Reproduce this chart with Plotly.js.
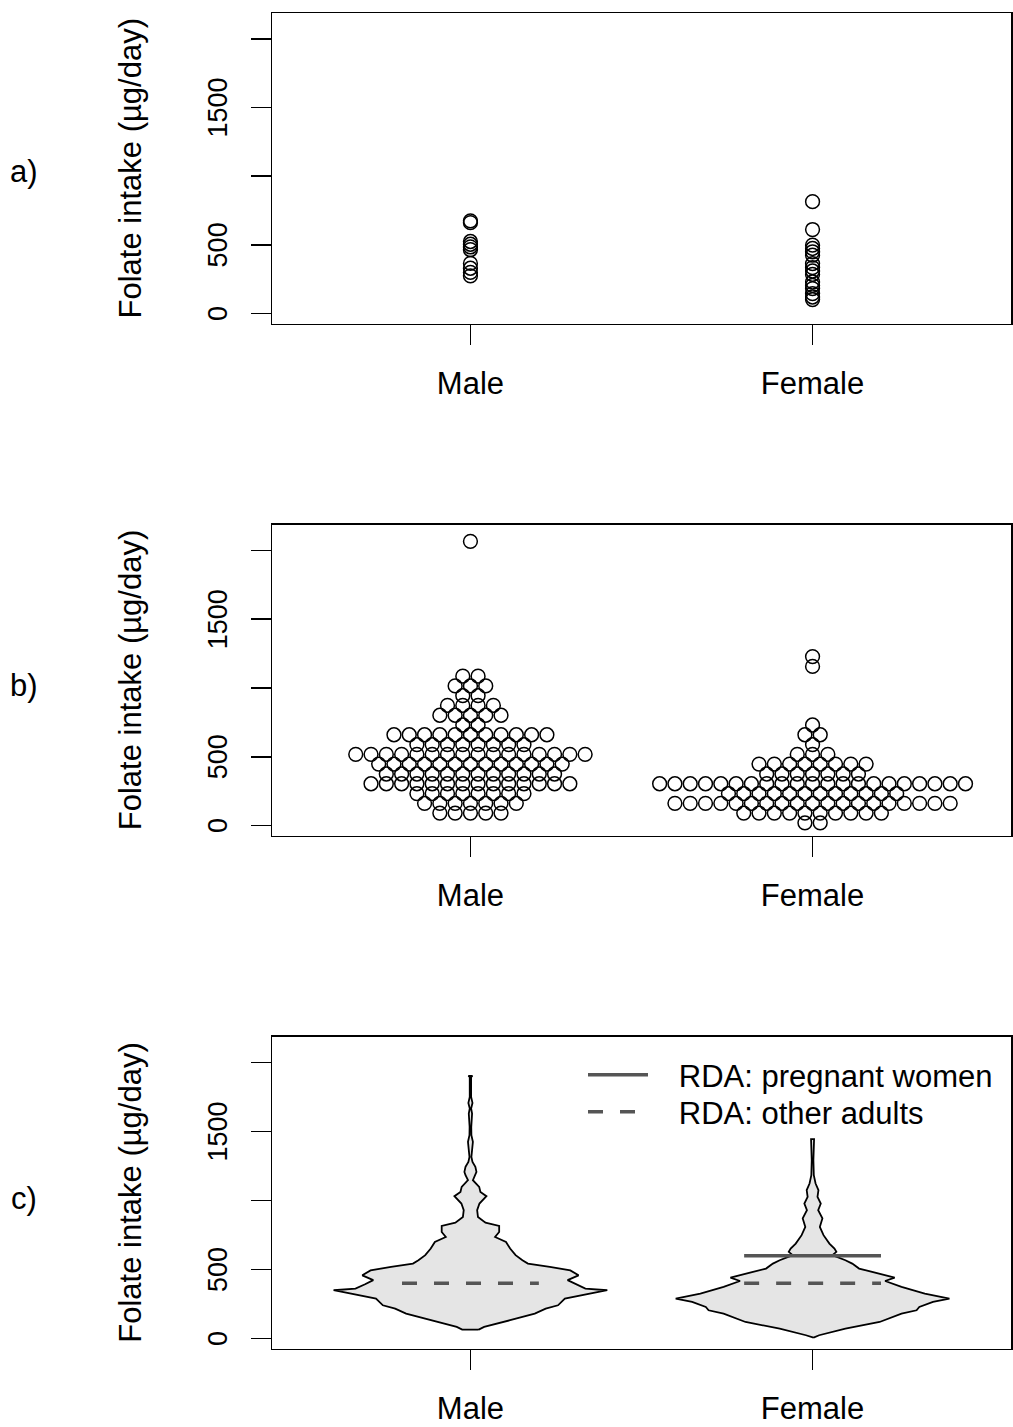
<!DOCTYPE html>
<html>
<head>
<meta charset="utf-8">
<script src="https://cdn.plot.ly/plotly-3.0.1.min.js"></script>
<style>
  html, body { margin: 0; padding: 0; background: #ffffff; }
  #chart { width: 1013px; height: 1427px; }
</style>
</head>
<body>
<div id="chart"></div>
<script>
// ---------------- data ----------------
const categories = ['Male', 'Female'];
const yTickVals = [0, 500, 1000, 1500, 2000];
const yTickText = ['0', '500', '', '1500', ''];
const panelLabels = ['a)', 'b)', 'c)'];
const yTitle = 'Folate intake (µg/day)';

// panel a: small sample (strip chart)
const stripMale = [675, 662, 525, 505, 485, 465, 365, 330, 300, 275];
const stripFemale = [815, 612, 498, 474, 450, 425, 364, 335, 310, 285, 230, 206, 182, 146, 121, 102];

// panel b: larger sample (beeswarm) – intake levels and number of people at each level
const swarmMaleLevels = [91, 162, 233, 304, 375, 447, 518, 589, 660, 731, 802, 873, 944, 1015, 1086, 2066];
const swarmMaleCounts = [5, 7, 8, 14, 12, 13, 16, 8, 11, 2, 5, 4, 2, 3, 2, 1];
const swarmFemaleLevels = [20, 91, 162, 233, 304, 375, 447, 518, 589, 660, 731, 1157, 1228];
const swarmFemaleCounts = [2, 10, 19, 12, 21, 7, 8, 3, 1, 2, 1, 1, 1];

// panel c: full sample density (relative density, % of maximum) at intake values
const densMaleY = [65, 84, 133, 181, 217, 241, 290, 326, 350, 362, 393, 423, 458, 494, 519, 543, 567, 604, 652, 700, 736, 772, 816, 840, 881, 930, 978, 1031, 1062, 1099, 1147, 1183, 1207, 1244, 1280, 1316, 1365, 1425, 1473, 1533, 1630, 1667, 1707, 1751, 1895, 1903];
const densMaleRel = [6, 10, 29, 47, 55, 64, 69, 88, 100, 84, 77, 71, 79, 73, 58, 42, 38, 33, 29, 26, 18, 21, 21, 11, 5.5, 4.9, 6.6, 11.7, 7.3, 6.4, 1.8, 3.6, 4.4, 3.6, 1.5, 0.7, 1.1, 1.8, 0.7, 0.6, 1.2, 0.5, 1.5, 0.5, 0.5, 1.5];
const densFemaleY = [7, 24, 72, 120, 181, 205, 229, 265, 290, 326, 374, 417, 442, 471, 507, 543, 567, 604, 628, 652, 688, 749, 809, 870, 930, 978, 1026, 1075, 1123, 1183, 1292, 1444];
const densFemaleRel = [0.7, 4.8, 24, 49, 65, 76, 78, 88, 100, 82, 65, 53, 60, 48, 34, 29, 24, 14.5, 17.4, 16, 12.3, 8, 5.3, 7.2, 4.1, 6, 3.6, 4.3, 2.2, 0.9, 0.6, 1.1];

// recommended dietary allowances
const rdaLabels = ['RDA: pregnant women', 'RDA: other adults'];
const rdaValues = [600, 400];

// ---------------- drawing ----------------
const W = 1013, H = 1427;
const FONT = 'Liberation Sans, Arial, Helvetica, sans-serif';
const xDom = [272 / W, 1011 / W];
function yDom(top, bottom) { return [1 - bottom / H, 1 - top / H]; }
const panels = [yDom(13, 323.5), yDom(524.5, 835.5), yDom(1036.5, 1348.5)];
const yRange = [-72, 2188];
const swarmStep = 0.0447;   // horizontal spacing of touching circles (x units)
const violinHalf = 0.40;    // half width at maximum density (x units)
const rdaHalf = 0.2;
const legendPad = '\u00A0\u00A0\u00A0';

const markerStyle = { symbol: 'circle-open', size: 13.8, color: '#000', line: { width: 1.5, color: '#000' } };

function swarm(levels, counts, center) {
  const xs = [], ys = [];
  levels.forEach((v, i) => {
    const n = counts[i];
    for (let k = 0; k < n; k++) {
      xs.push(center + (k - (n - 1) / 2) * swarmStep);
      ys.push(v);
    }
  });
  return { xs, ys };
}

function violin(yv, rel, center) {
  const xs = [], ys = [];
  for (let i = 0; i < yv.length; i++) { xs.push(center + rel[i] / 100 * violinHalf); ys.push(yv[i]); }
  for (let i = yv.length - 1; i >= 0; i--) { xs.push(center - rel[i] / 100 * violinHalf); ys.push(yv[i]); }
  xs.push(xs[0]); ys.push(ys[0]);
  return { xs, ys };
}

const traces = [];
// panel a
traces.push({ type: 'scatter', mode: 'markers', x: stripMale.map(() => 1), y: stripMale, xaxis: 'x', yaxis: 'y', marker: markerStyle, showlegend: false, hoverinfo: 'y' });
traces.push({ type: 'scatter', mode: 'markers', x: stripFemale.map(() => 2), y: stripFemale, xaxis: 'x', yaxis: 'y', marker: markerStyle, showlegend: false, hoverinfo: 'y' });
// panel b
const sm = swarm(swarmMaleLevels, swarmMaleCounts, 1);
const sf = swarm(swarmFemaleLevels, swarmFemaleCounts, 2);
traces.push({ type: 'scatter', mode: 'markers', x: sm.xs, y: sm.ys, xaxis: 'x2', yaxis: 'y2', marker: markerStyle, showlegend: false, hoverinfo: 'y' });
traces.push({ type: 'scatter', mode: 'markers', x: sf.xs, y: sf.ys, xaxis: 'x2', yaxis: 'y2', marker: markerStyle, showlegend: false, hoverinfo: 'y' });
// panel c
const vm = violin(densMaleY, densMaleRel, 1);
const vf = violin(densFemaleY, densFemaleRel, 2);
[vm, vf].forEach(v => traces.push({ type: 'scatter', mode: 'lines', x: v.xs, y: v.ys, xaxis: 'x3', yaxis: 'y3', fill: 'toself', fillcolor: '#e5e5e5', line: { color: '#000', width: 1.8 }, showlegend: false, hoverinfo: 'skip' }));
traces.push({ type: 'scatter', mode: 'lines', name: legendPad + rdaLabels[0], legend: 'legend', x: [2 - rdaHalf, 2 + rdaHalf], y: [rdaValues[0], rdaValues[0]], xaxis: 'x3', yaxis: 'y3', line: { color: '#555555', width: 3.5 }, showlegend: true });
traces.push({ type: 'scatter', mode: 'lines', name: legendPad + rdaLabels[1], legend: 'legend2', x: [1 - rdaHalf, 1 + rdaHalf, null, 2 - rdaHalf, 2 + rdaHalf], y: [rdaValues[1], rdaValues[1], null, rdaValues[1], rdaValues[1]], xaxis: 'x3', yaxis: 'y3', line: { color: '#555555', width: 3.5, dash: '15px,17px' }, showlegend: true, connectgaps: false });

function xAxis(anchor) {
  return {
    domain: xDom, range: [0.42, 2.58], anchor: anchor, tickmode: 'array', tickvals: [1, 2], ticktext: categories,
    ticks: 'outside', ticklen: 20, tickwidth: 1.5, tickcolor: '#000', showline: true, linecolor: '#000', linewidth: 1.5,
    mirror: true, showgrid: false, zeroline: false, tickfont: { family: FONT, size: 31, color: '#000' }, ticklabelstandoff: 12
  };
}
function yAxis(anchor, dom) {
  return {
    domain: dom, range: yRange, anchor: anchor, tickmode: 'array', tickvals: yTickVals, ticktext: yTickText, tickangle: -90,
    ticks: 'outside', ticklen: 20, tickwidth: 1.5, tickcolor: '#000', showline: true, linecolor: '#000', linewidth: 1.5,
    mirror: true, showgrid: false, zeroline: false, tickfont: { family: FONT, size: 27, color: '#000' }, ticklabelstandoff: 13,
    ticklabelshift: 4,
    title: { text: yTitle, font: { family: FONT, size: 31, color: '#000' }, standoff: 52 }
  };
}

function legendAt(topPx) {
  return { x: 583 / W, y: 1 - topPx / H, xanchor: 'left', yanchor: 'top', bgcolor: 'rgba(0,0,0,0)', borderwidth: 0,
           font: { family: FONT, size: 31, color: '#000' }, itemwidth: 60, tracegroupgap: 0 };
}

const labelY = [172, 685, 1198];
const layout = {
  width: W, height: H, margin: { l: 0, r: 0, t: 0, b: 0 }, paper_bgcolor: '#fff', plot_bgcolor: '#fff',
  font: { family: FONT, color: '#000' },
  xaxis: xAxis('y'), yaxis: yAxis('x', panels[0]),
  xaxis2: xAxis('y2'), yaxis2: yAxis('x2', panels[1]),
  xaxis3: xAxis('y3'), yaxis3: yAxis('x3', panels[2]),
  showlegend: true,
  legend: legendAt(1048),
  legend2: legendAt(1085),
  annotations: panelLabels.map((t, i) => ({ text: t, xref: 'paper', yref: 'paper', x: 23.5 / W, y: 1 - labelY[i] / H,
    xanchor: 'center', yanchor: 'middle', showarrow: false, font: { family: FONT, size: 31, color: '#000' } }))
};

Plotly.newPlot('chart', traces, layout, { staticPlot: true, displayModeBar: false });
</script>
</body>
</html>
